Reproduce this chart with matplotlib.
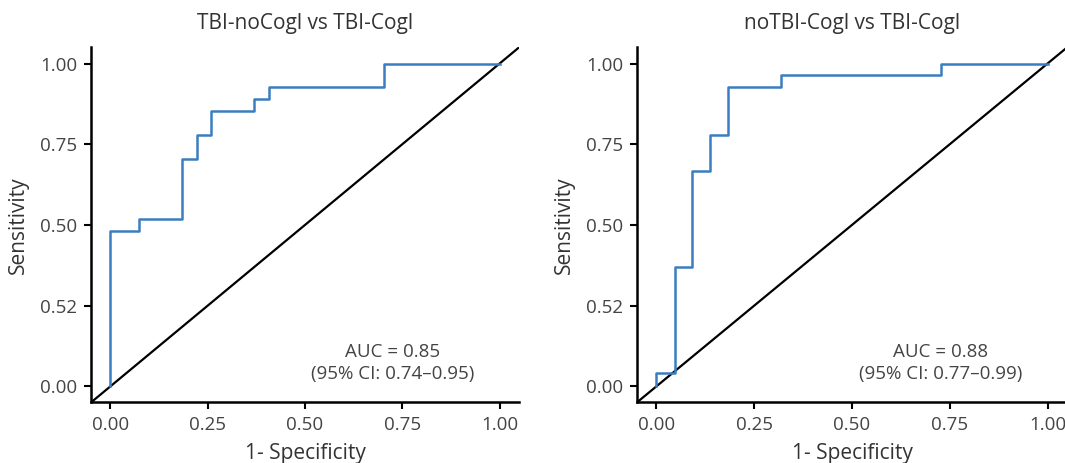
import matplotlib
matplotlib.use('Agg')
import matplotlib.pyplot as plt

plt.rcParams['font.family'] = ['Open Sans', 'DejaVu Sans']

# ROC corner points
fpr_a = [0.0, 0.0, 0.074, 0.185, 0.222, 0.259, 0.370, 0.407, 0.704, 1.0]
tpr_a = [0.0, 0.481, 0.519, 0.704, 0.778, 0.852, 0.889, 0.926, 1.0, 1.0]
fpr_b = [0.0, 0.0, 0.047, 0.091, 0.136, 0.182, 0.318, 0.727, 1.0]
tpr_b = [0.0, 0.040, 0.370, 0.667, 0.778, 0.926, 0.963, 1.0, 1.0]

titles = ['TBI-noCogl vs TBI-Cogl', 'noTBI-Cogl vs TBI-Cogl']
auc_text = ['AUC = 0.85\n(95% CI: 0.74\u20130.95)', 'AUC = 0.88\n(95% CI: 0.77\u20130.99)']
xticks = [0, 0.25, 0.5, 0.75, 1.0]
xtick_labels = ['0.00', '0.25', '0.50', '0.75', '1.00']
yticks = [0, 0.25, 0.5, 0.75, 1.0]
ytick_labels = ['0.00', '0.52', '0.50', '0.75', '1.00']

blue = '#3b7dc0'
grey = '#444444'

fig = plt.figure(figsize=(10.65, 4.63), dpi=100)
ax1 = fig.add_axes([0.0854, 0.1307, 0.402, 0.767])
ax2 = fig.add_axes([0.598, 0.1307, 0.404, 0.767])

for ax, fpr, tpr, title, txt in zip([ax1, ax2], [fpr_a, fpr_b], [tpr_a, tpr_b], titles, auc_text):
    ax.axline((0, 0), (1, 1), color='black', lw=1.6, zorder=2)
    ax.plot(fpr, tpr, drawstyle='steps-post', color=blue, lw=1.8, zorder=3)
    ax.set_xlim(-0.05, 1.05)
    ax.set_ylim(-0.05, 1.05)
    ax.set_xticks(xticks)
    ax.set_xticklabels(xtick_labels)
    ax.set_yticks(yticks)
    ax.set_yticklabels(ytick_labels)
    ax.tick_params(labelsize=13.5, colors='black', labelcolor=grey, length=5, width=1.5, pad=5)
    for s in ['top', 'right']:
        ax.spines[s].set_visible(False)
    for s in ['left', 'bottom']:
        ax.spines[s].set_linewidth(1.8)
    ax.set_title(title, fontsize=15, color='#333333', pad=13)
    ax.set_xlabel('1- Specificity', fontsize=15, color='#333333', labelpad=6)
    ax.set_ylabel('Sensitivity', fontsize=15, color='#333333', labelpad=8)
    ax.text(0.726, 0.072, txt, ha='center', va='center', fontsize=13.5, color=grey,
            linespacing=1.25)

fig.savefig('out.png', dpi=100)
